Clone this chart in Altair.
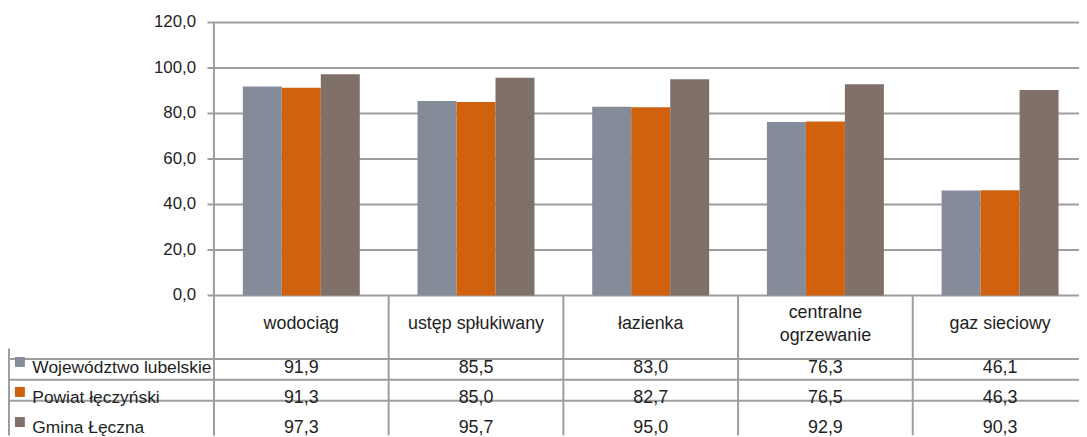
import altair as alt
import pandas as pd

# ---- data ----
categories = ["wodociąg", "ustęp spłukiwany", "łazienka", "centralne\nogrzewanie", "gaz sieciowy"]
series = ["Województwo lubelskie", "Powiat łęczyński", "Gmina Łęczna"]
wojewodztwo = [91.9, 85.5, 83.0, 76.3, 46.1]
powiat = [91.3, 85.0, 82.7, 76.5, 46.3]
gmina = [97.3, 95.7, 95.0, 92.9, 90.3]
y_ticks = [0, 20, 40, 60, 80, 100, 120]
colors = ["#848c99", "#d0620f", "#7f7069"]

# ---- layout / style ----
W, H = 1079, 429
FONT = "Liberation Sans"
TXT = "#1e1e1e"
GRID = "#9e9e9e"
LW = 2

def fmt(v):
    return f"{v:.1f}".replace(".", ",")

rows = []
for s, vals in zip(series, [wojewodztwo, powiat, gmina]):
    for c, v in zip(categories, vals):
        rows.append({"cat": c, "series": s, "value": v, "label": fmt(v)})
df = pd.DataFrame(rows)
ticks = pd.DataFrame({"v": y_ticks, "label": [fmt(t) for t in y_ticks]})
cats = pd.DataFrame({"cat": categories, "nl": [c.count("\n") + 1 for c in categories]})
ser = pd.DataFrame({"series": series})

xscale = alt.Scale(domain=categories, range=[207.5, 1087.5], paddingInner=0, paddingOuter=0)
yscale = alt.Scale(domain=[0, 120], range=[288, 13], nice=False, zero=True)
rowscale = alt.Scale(domain=series, range=[361, 421.5], padding=0)
keyscale = alt.Scale(domain=series, range=[355, 415.5], padding=0)
linescale = alt.Scale(domain=series, range=[341.5, 404.5], padding=0)
cscale = alt.Scale(domain=series, range=colors)

X = alt.X("cat:N", scale=xscale, axis=None, sort=categories)

grid = alt.Chart(ticks).mark_rule(color=GRID, strokeWidth=LW).encode(
    y=alt.Y("v:Q", scale=yscale, axis=None),
    x=alt.value(201), x2=alt.value(W),
)

ylabels = alt.Chart(ticks).mark_text(
    align="right", baseline="middle", font=FONT, fontSize=17, color=TXT
).encode(
    y=alt.Y("v:Q", scale=yscale, axis=None),
    x=alt.value(189.5),
    text="label:N",
)

bars = alt.Chart(df).mark_bar().encode(
    x=X,
    xOffset=alt.XOffset("series:N", sort=series,
                        scale=alt.Scale(domain=series, paddingInner=0, paddingOuter=0.74)),
    y=alt.Y("value:Q", scale=yscale, axis=None),
    color=alt.Color("series:N", scale=cscale, legend=None),
)

vlines = alt.Chart(cats).mark_rule(color=GRID, strokeWidth=LW).encode(
    x=alt.X("cat:N", scale=xscale, axis=None, sort=categories, bandPosition=0),
    y=alt.value(288), y2=alt.value(H),
)

axis_line = alt.Chart(pd.DataFrame({"cat": [categories[0]], "top": [120]})).mark_rule(
    color=GRID, strokeWidth=LW
).encode(
    x=alt.X("cat:N", scale=xscale, axis=None, sort=categories, bandPosition=0),
    y=alt.Y("top:Q", scale=yscale, axis=None),
    y2=alt.value(H),
)

hlines = alt.Chart(ser).mark_rule(color=GRID, strokeWidth=LW).encode(
    y=alt.Y("series:N", scale=linescale, axis=None, sort=series),
    x=alt.value(0), x2=alt.value(W),
)

left_border = alt.Chart(cats.head(1)).mark_rule(color=GRID, strokeWidth=LW).encode(
    x=alt.value(1), y=alt.value(341.5), y2=alt.value(H),
)

header1 = alt.Chart(cats).transform_filter("datum.nl == 1").mark_text(
    font=FONT, fontSize=18, color=TXT, baseline="middle"
).encode(
    x=alt.X("cat:N", scale=xscale, axis=None, sort=categories, bandPosition=0.5),
    y=alt.value(317),
    text="cat:N",
)

header2 = alt.Chart(cats).transform_filter("datum.nl == 2").mark_text(
    lineBreak="\n", font=FONT, fontSize=18, color=TXT, baseline="middle", lineHeight=23
).encode(
    x=alt.X("cat:N", scale=xscale, axis=None, sort=categories, bandPosition=0.5),
    y=alt.value(306),
    text="cat:N",
)

cells = alt.Chart(df).mark_text(
    font=FONT, fontSize=18, color=TXT, baseline="middle"
).encode(
    x=alt.X("cat:N", scale=xscale, axis=None, sort=categories, bandPosition=0.5),
    y=alt.Y("series:N", scale=rowscale, axis=None, sort=series),
    text="label:N",
)

keys = alt.Chart(ser).mark_square(size=100, opacity=1).encode(
    x=alt.value(12),
    y=alt.Y("series:N", scale=keyscale, axis=None, sort=series),
    color=alt.Color("series:N", scale=cscale, legend=None),
)

keylabels = alt.Chart(ser).mark_text(
    align="left", baseline="middle", font=FONT, fontSize=17.5, color=TXT
).encode(
    x=alt.value(24.5),
    y=alt.Y("series:N", scale=rowscale, axis=None, sort=series),
    text="series:N",
)

chart = alt.layer(
    grid, bars, vlines, axis_line, hlines, left_border, ylabels,
    header1, header2, cells, keys, keylabels
).resolve_scale(y="independent").properties(
    width=W, height=H, padding=0, autosize=alt.AutoSizeParams(type="none"),
    background="white",
).configure_view(stroke=None)

chart.save("out.html", embed_options={"renderer": "svg", "actions": False})
